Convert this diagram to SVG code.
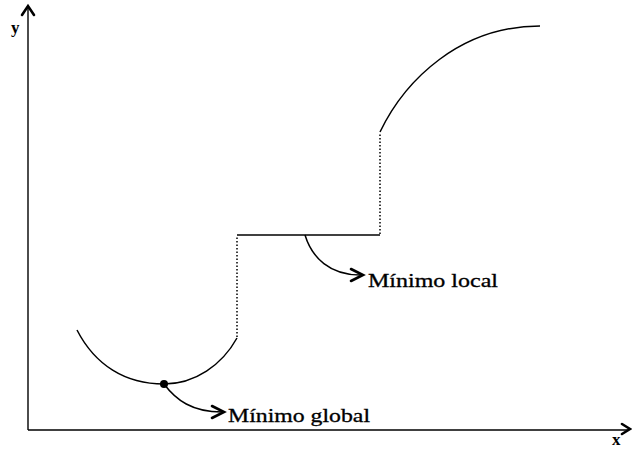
<svg xmlns="http://www.w3.org/2000/svg" width="632" height="450" viewBox="0 0 632 450">
<style>
.ax{stroke:#000;stroke-width:1.4;fill:none}
.cv{stroke:#000;stroke-width:1.5;fill:none}
.dt{stroke:#000;stroke-width:1.5;fill:none;stroke-dasharray:1.5 2}
.hd{stroke:#000;stroke-width:2.6;fill:none;stroke-linecap:round;stroke-linejoin:miter}
.lb{font-family:"Liberation Serif","DejaVu Serif",serif;font-size:19px;fill:#000;stroke:#000;stroke-width:0.3}
.al{font-family:"Liberation Serif","DejaVu Serif",serif;font-size:17px;font-weight:bold;fill:#000}
</style>
<rect width="632" height="450" fill="#fff"/>
<g id="axes">
<line class="ax" x1="28" y1="7" x2="28" y2="430"/>
<path class="hd" d="M22,15 L28,6 L34,15"/>
<line class="ax" x1="28" y1="430" x2="629" y2="430"/>
<path class="hd" d="M622,424 L630,429 L622,434"/>
<text class="al" x="11" y="33">y</text>
<text class="al" x="612" y="445">x</text>
</g>
<g id="curve">
<path class="cv" d="M77,330 C95,365 125,384 164,384 C195,384 222,365 237,338"/>
<line class="dt" x1="237" y1="337" x2="237" y2="236"/>
<line class="cv" x1="237" y1="235" x2="380" y2="235"/>
<line class="dt" x1="380" y1="234" x2="380" y2="133"/>
<path class="cv" d="M380,132 C405,80 460,26 540,26"/>
</g>
<g id="global-min">
<circle cx="164" cy="384" r="4" fill="#000"/>
<path class="cv" d="M164,384 C176,400 192,412 222,412"/>
<path class="hd" d="M212,406 L224,412 L212,418"/>
<text class="lb" x="228" y="422" textLength="142" lengthAdjust="spacingAndGlyphs">Mínimo global</text>
</g>
<g id="local-min">
<path class="cv" d="M305,235 C312,258 330,275 360,275"/>
<path class="hd" d="M351,269 L363,275 L351,281"/>
<text class="lb" x="368" y="287" textLength="130" lengthAdjust="spacingAndGlyphs">Mínimo local</text>
</g>
</svg>
